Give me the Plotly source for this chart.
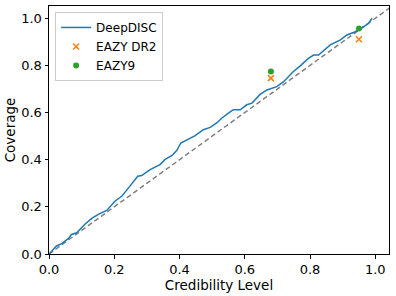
import plotly.graph_objects as go

deep_x = [0.0, 0.023, 0.039, 0.059, 0.069, 0.085, 0.110, 0.131, 0.151, 0.177, 0.202, 0.223,
          0.248, 0.272, 0.284, 0.294, 0.310, 0.340, 0.356, 0.376, 0.392, 0.404, 0.422, 0.448,
          0.473, 0.494, 0.514, 0.530, 0.550, 0.565, 0.586, 0.606, 0.622, 0.647, 0.668, 0.683,
          0.698, 0.719, 0.749, 0.770, 0.795, 0.811, 0.826, 0.862, 0.893, 0.913, 0.939, 0.964,
          0.979, 0.990]
deep_y = [0.0, 0.034, 0.044, 0.065, 0.083, 0.090, 0.126, 0.151, 0.168, 0.185, 0.224, 0.245,
          0.288, 0.330, 0.333, 0.344, 0.358, 0.379, 0.401, 0.417, 0.440, 0.471, 0.485, 0.502,
          0.527, 0.537, 0.556, 0.577, 0.598, 0.612, 0.612, 0.633, 0.640, 0.677, 0.696, 0.704,
          0.710, 0.731, 0.774, 0.798, 0.830, 0.844, 0.844, 0.887, 0.908, 0.929, 0.943, 0.964,
          0.978, 1.0]

cred_levels = [0.68, 0.95]
eazy_dr2 = [0.746, 0.911]
eazy9 = [0.774, 0.957]

diag = [0.0, 1.1]

fig = go.Figure()
fig.add_trace(go.Scatter(x=diag, y=diag, mode="lines", showlegend=False,
                         line=dict(color="#808080", width=1.5, dash="5px,3px")))
fig.add_trace(go.Scatter(x=deep_x, y=deep_y, mode="lines", name="DeepDISC",
                         line=dict(color="#1f77b4", width=1.5)))
fig.add_trace(go.Scatter(x=cred_levels, y=eazy_dr2, mode="markers", name="EAZY DR2",
                         marker=dict(symbol="x-thin", size=6, color="#ff7f0e",
                                     line=dict(color="#ff7f0e", width=1.5))))
fig.add_trace(go.Scatter(x=cred_levels, y=eazy9, mode="markers", name="EAZY9",
                         marker=dict(symbol="circle", size=6, color="#2ca02c")))

axis_common = dict(showgrid=False, zeroline=False, showline=True, linecolor="black",
                   linewidth=1, mirror=True, ticks="outside", ticklen=3.5, tickwidth=1,
                   tickcolor="black", tickfont=dict(size=13, color="black"),
                   tickformat=".1f", dtick=0.2, tick0=0, automargin=False)

fig.update_xaxes(range=[0, 1.042], title=dict(text="Credibility Level", font=dict(size=13.5, color="black"), standoff=0),
                 **axis_common)
fig.update_yaxes(range=[0, 1.052], title=dict(text="Coverage", font=dict(size=13.5, color="black"), standoff=2),
                 **axis_common)

fig.update_layout(
    width=396, height=296,
    margin=dict(l=49, r=7, t=6, b=42),
    paper_bgcolor="white", plot_bgcolor="white",
    font=dict(family="DejaVu Sans", color="black"),
    legend=dict(x=0.018, y=0.976, xanchor="left", yanchor="top",
                bgcolor="rgba(255,255,255,0.8)", bordercolor="#cccccc", borderwidth=1,
                font=dict(size=12), tracegroupgap=0, itemwidth=30),
)

fig.write_html("out.html", config={"displayModeBar": False},
               post_script="document.body.style.margin='0';")
